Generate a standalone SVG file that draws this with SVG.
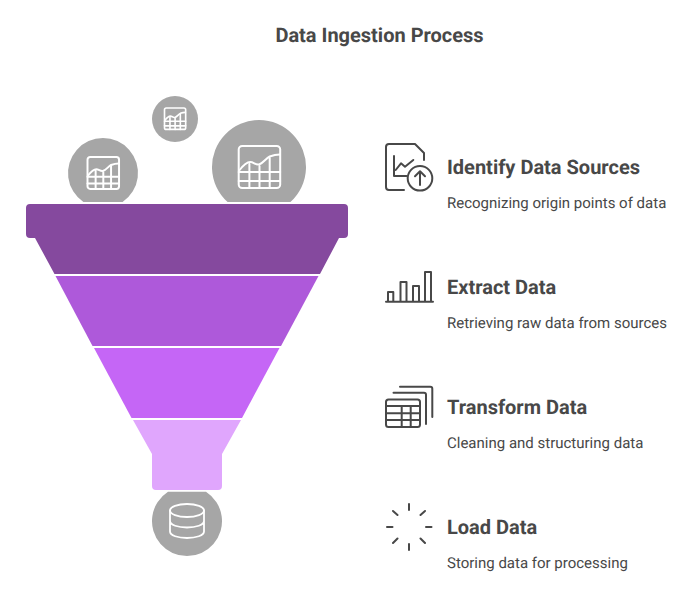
<svg xmlns="http://www.w3.org/2000/svg" xmlns:xlink="http://www.w3.org/1999/xlink" width="699" height="600" viewBox="0 0 699 600">
<style>
text{font-family:Roboto,"Liberation Sans",sans-serif;fill:#484848;text-rendering:geometricPrecision}
.title{font-size:20px;font-weight:700}
.head{font-size:20px;font-weight:700}
.desc{font-size:15px;font-weight:400}
.disc{fill:#a6a6a6}
.ico{fill:none;stroke:#fff;stroke-linecap:round;stroke-linejoin:round}
.dark{fill:none;stroke:#484848;stroke-width:2;stroke-linecap:round;stroke-linejoin:round}
</style>
<defs>
<g id="chart">
<rect x="0" y="0" width="41.500" height="42" rx="3.500"/>
<path d="M0.500 24.500C4 20 8 16 11.500 16C15 16 16.500 19 20 18.500C24 18 27 12.500 31 10.500C35 9 38 8.500 41 8.500"/>
<path d="M0 26H41.500M0 35H41.500M10.700 18V42M20.800 20V42M31 12V42"/>
</g>
</defs>
<text class="title" x="379.500" y="42" text-anchor="middle">Data Ingestion Process</text>
<g id="source-small">
<circle class="disc" cx="175" cy="119" r="23"/>
<use xlink:href="#chart" href="#chart" class="ico" transform="translate(164.500 108) scale(0.51)" stroke-width="3.200"/>
</g>
<g id="source-left">
<path class="disc" d="M83.400 202A35 35 0 1 1 122.600 202Z"/>
<use xlink:href="#chart" href="#chart" class="ico" transform="translate(87.500 157) scale(0.76)" stroke-width="2.600"/>
</g>
<g id="source-right">
<path class="disc" d="M227.600 202A47 47 0 1 1 290.400 202Z"/>
<use xlink:href="#chart" href="#chart" class="ico" transform="translate(238.700 146)" stroke-width="2"/>
</g>
<g id="funnel-1">
<path fill="#85499e" d="M30 204H344Q348 204 348 208V234Q348 238 344 238H339L320 274H54.500L35 238H30Q26 238 26 234V208Q26 204 30 204Z"/>
</g>
<g id="funnel-2">
<path fill="#ae59da" d="M55.500 276H318.500L281 346H92.500Z"/>
</g>
<g id="funnel-3">
<path fill="#c566f6" d="M94 348H279.500L242 418H131.500Z"/>
</g>
<g id="funnel-4">
<path fill="#e0a6fd" d="M133 420H241L222 454V486Q222 490 218 490H156Q152 490 152 486V454Z"/>
</g>
<g id="store">
<path class="disc" d="M168 491.700A35 35 0 1 0 206 491.700Z"/>
<g class="ico" stroke-width="1.800">
<ellipse cx="187" cy="510.500" rx="17" ry="6.500"/>
<path d="M170 510.500V531.500C170 535.500 178 538 187 538C196 538 204 535.500 204 531.500V510.500M170 521C170 525 178 527.500 187 527.500C196 527.500 204 525 204 521"/>
</g>
</g>
<g id="step-identify">
<path class="dark" d="M404 190H389Q386 190 386 187V147Q386 144 389 144H415L424 153V160"/>
<path class="dark" d="M394 156V176H406.500M395.700 170L401 163.300L405 166.700L413.300 160"/>
<circle class="dark" cx="420" cy="178.300" r="12.300"/>
<path class="dark" d="M420 185V171.500M415 176.300L420 171.300L425 176.300"/>
<text class="head" x="447" y="174">Identify Data Sources</text>
<text class="desc" x="447" y="208">Recognizing origin points of data</text>
</g>
<g id="step-extract">
<path class="dark" d="M386 301.700H433M388 301V292H393.300V301M400.500 301V282H406.500V301M413 301V286H419V301M425 301V272H431V301"/>
<text class="head" x="447" y="294">Extract Data</text>
<text class="desc" x="447" y="328">Retrieving raw data from sources</text>
</g>
<g id="step-transform">
<rect class="dark" x="386" y="399.500" width="34" height="27.500" rx="2.500"/>
<path class="dark" d="M386 406H420M386 413.300H420M386 420H420M401.700 406V427M410.700 406V427M393.500 392.700H424Q426 392.700 426 394.700V424M400 386.700H430.300Q432.300 386.700 432.300 388.700V417"/>
<text class="head" x="447" y="414">Transform Data</text>
<text class="desc" x="447" y="448">Cleaning and structuring data</text>
</g>
<g id="step-load">
<path class="dark" d="M409 504V510M409 544V550M387 527H392.500M426 527H431.500M393 511L397.500 515M425 511L420.500 515M393 543L397.500 538.500M425 543L420.500 538.500"/>
<text class="head" x="447" y="534">Load Data</text>
<text class="desc" x="447" y="568">Storing data for processing</text>
</g>
</svg>
